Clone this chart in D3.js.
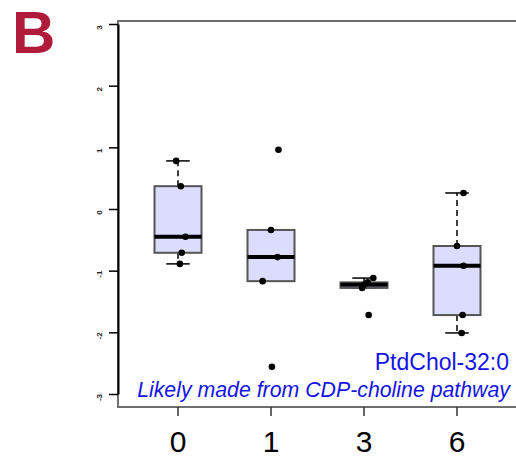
<!DOCTYPE html>
<html lang="en">
<head>
    <meta charset="UTF-8">
    <title>PtdChol-32:0 boxplot</title>
    <script src="https://d3js.org/d3.v7.min.js"></script>
    <style>
        body { margin: 0; background: white; }
        svg { display: block; font-family: "Liberation Sans", Arial, sans-serif; }
    </style>
</head>
<body>
    <div id="chart"></div>
    <script>
        // groups (x categories)
        var groups = ["0", "1", "3", "6"];
        // observed values per group
        var values0 = [0.78, 0.37, -0.45, -0.71, -0.89];
        var values1 = [0.96, -0.34, -0.78, -1.17, -2.56];
        var values3 = [-1.12, -1.19, -1.23, -1.28, -1.72];
        var values6 = [0.26, -0.60, -0.92, -1.72, -2.01];
        // horizontal jitter of the points, in group widths
        var jitter0 = [-0.02, 0.03, 0.08, 0.04, 0.02];
        var jitter1 = [0.08, 0.0, 0.07, -0.09, 0.01];
        var jitter3 = [0.10, 0.04, 0.0, -0.02, 0.05];
        var jitter6 = [0.07, 0.0, 0.07, 0.06, 0.05];
        var yTicks = [-3, -2, -1, 0, 1, 2, 3];

        var allValues = [values0, values1, values3, values6];
        var allJitter = [jitter0, jitter1, jitter3, jitter6];

        var W = 516, H = 459;
        var svg = d3.select("#chart").append("svg")
            .attr("width", W).attr("height", H);

        var x = d3.scaleBand().domain(groups).range([131.5, 503.5]).padding(0);
        var y = d3.scaleLinear().domain([-3, 3]).range([394, 24]);
        var boxW = 47;

        // panel letter
        svg.append("text")
            .attr("x", 12).attr("y", 53)
            .attr("font-size", 60).attr("font-weight", "bold")
            .attr("fill", "#b01b3c")
            .text("B");

        // frame
        svg.append("rect")
            .attr("x", 118).attr("y", 21)
            .attr("width", 420).attr("height", 386)
            .attr("fill", "none").attr("stroke", "#6e6e6e").attr("stroke-width", 2);

        // y axis
        var yAxis = svg.append("g")
            .attr("transform", "translate(118,0)")
            .call(d3.axisLeft(y).tickValues(yTicks).tickSize(9).tickSizeOuter(0));
        yAxis.select(".domain").attr("stroke", "#000").attr("stroke-width", 2);
        yAxis.selectAll(".tick line").attr("stroke", "#000").attr("stroke-width", 1.5);
        yAxis.selectAll(".tick text")
            .attr("font-size", 8).attr("font-weight", "bold").attr("fill", "#222")
            .attr("x", null).attr("dy", null)
            .attr("text-anchor", "middle")
            .attr("transform", "translate(-16,3) rotate(-90)")
            .text(d => d);

        // x axis
        var xAxis = svg.append("g")
            .attr("transform", "translate(0,407)")
            .call(d3.axisBottom(x).tickSize(9).tickSizeOuter(0));
        xAxis.select(".domain").remove();
        xAxis.selectAll(".tick line").attr("stroke", "#333").attr("stroke-width", 1.5);
        xAxis.selectAll(".tick text")
            .attr("font-size", 30).attr("fill", "#000")
            .attr("dy", null).attr("y", 45);

        // boxes
        groups.forEach(function (g, i) {
            var v = allValues[i].slice().sort(d3.ascending);
            var q1 = d3.quantile(v, 0.25), med = d3.quantile(v, 0.5), q3 = d3.quantile(v, 0.75);
            var iqr = q3 - q1;
            var hi = d3.max(v.filter(d => d <= q3 + 1.5 * iqr));
            var lo = d3.min(v.filter(d => d >= q1 - 1.5 * iqr));
            var cx = x(g) + x.bandwidth() / 2;
            var grp = svg.append("g");

            // whiskers
            grp.append("line")
                .attr("x1", cx).attr("x2", cx).attr("y1", y(q3)).attr("y2", y(hi))
                .attr("stroke", "#000").attr("stroke-width", 1.5).attr("stroke-dasharray", "6,4");
            grp.append("line")
                .attr("x1", cx).attr("x2", cx).attr("y1", y(q1)).attr("y2", y(lo))
                .attr("stroke", "#000").attr("stroke-width", 1.5).attr("stroke-dasharray", "6,4");
            [hi, lo].forEach(function (w) {
                grp.append("line")
                    .attr("x1", cx - boxW / 4).attr("x2", cx + boxW / 4)
                    .attr("y1", y(w)).attr("y2", y(w))
                    .attr("stroke", "#000").attr("stroke-width", 1.5);
            });

            // box
            grp.append("rect")
                .attr("x", cx - boxW / 2).attr("width", boxW)
                .attr("y", y(q3)).attr("height", y(q1) - y(q3))
                .attr("fill", "#dcdcfd").attr("stroke", "#555").attr("stroke-width", 2);
            grp.append("line")
                .attr("x1", cx - boxW / 2).attr("x2", cx + boxW / 2)
                .attr("y1", y(med)).attr("y2", y(med))
                .attr("stroke", "#000").attr("stroke-width", 4);

            // points
            grp.selectAll("circle")
                .data(allValues[i])
                .enter().append("circle")
                .attr("cx", (d, j) => cx + allJitter[i][j] * x.bandwidth())
                .attr("cy", d => y(d))
                .attr("r", 3.3)
                .attr("fill", "#000");
        });

        // annotation
        svg.append("text")
            .attr("x", 509).attr("y", 370)
            .attr("text-anchor", "end")
            .attr("font-size", 23).attr("fill", "#1414e6")
            .text("PtdChol-32:0");
        svg.append("text")
            .attr("x", 510).attr("y", 397)
            .attr("text-anchor", "end")
            .attr("font-size", 21.3).attr("font-style", "italic").attr("fill", "#1414e6")
            .text("Likely made from CDP-choline pathway");
    </script>
</body>
</html>
